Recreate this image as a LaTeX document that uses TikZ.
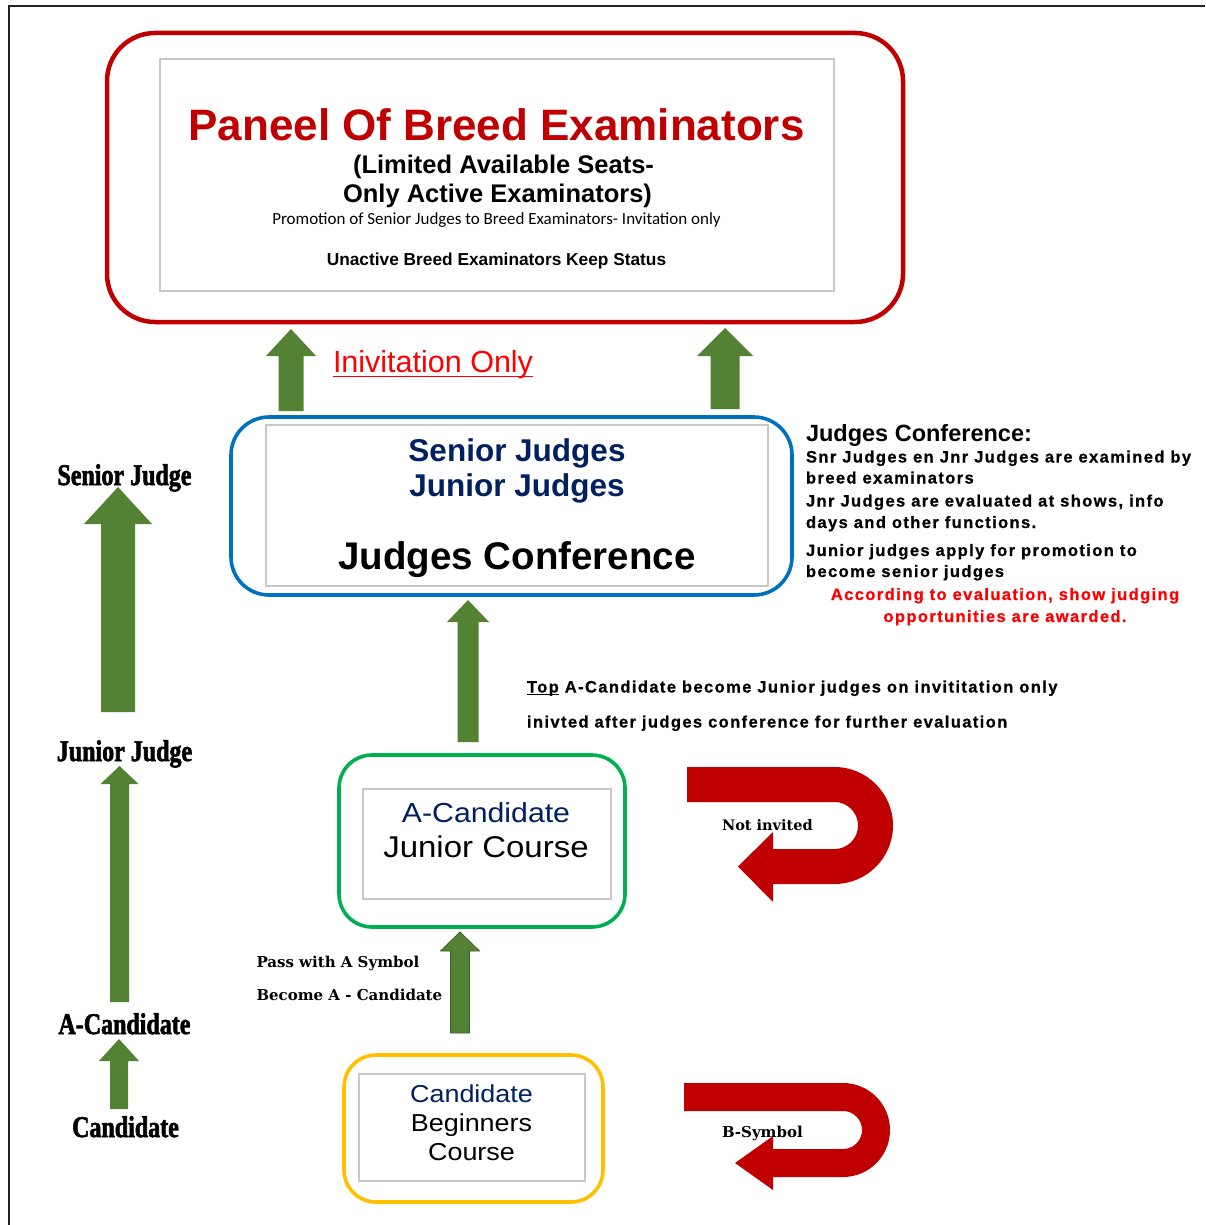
\documentclass[tikz,border=0pt]{standalone}
\usepackage{fontspec}
\setmainfont{Liberation Sans}
\newfontfamily\wsans{Liberation Sans}[FakeStretch=1.1]
\newfontfamily\lsans{Liberation Sans}[LetterSpace=8.5,FakeBold=0.7]
\newfontfamily\hserif{Liberation Serif}[FakeStretch=0.8,FakeBold=2]
\newfontfamily\dserif{DejaVu Serif}
\newfontfamily\calib{Carlito}
\definecolor{pred}{HTML}{C00000}
\definecolor{bred}{HTML}{FF0000}
\definecolor{pgreen}{HTML}{548235}
\definecolor{pgreenline}{HTML}{3B5E25}
\definecolor{navy}{HTML}{002060}
\definecolor{pblue}{HTML}{0070C0}
\definecolor{pgbox}{HTML}{00B050}
\definecolor{pyellow}{HTML}{FFC000}
\definecolor{pgray}{HTML}{C8C8C8}
\definecolor{frame}{HTML}{222222}
\newcommand\fs[1]{\fontsize{#1}{#1}\selectfont}
\newcommand\ulin[3]{{\setbox0\hbox{#3}\rlap{\rule[-#1]{\wd0}{#2}}\box0}}
% apex x, apex y, head half width, head base y, shaft half width, bottom y
\newcommand\uparr[7][]{\path[greenarrow,#1] (#2,#3) -- ({#2+#4},#5) -- ({#2+#6},#5) -- ({#2+#6},#7) -- ({#2-#6},#7) -- ({#2-#6},#5) -- ({#2-#4},#5) -- cycle;}
\tikzset{
  roundbox/.style={draw, line width=3.6pt, fill=white, inner sep=0pt},
  innerrect/.style={draw=pgray, line width=1.2pt, fill=white, inner sep=0pt},
  greenarrow/.style={fill=pgreen},
  redturn/.style={fill=pred},
  txt/.style={anchor=base, inner sep=0pt, outer sep=0pt},
  txtw/.style={anchor=base west, inner sep=0pt, outer sep=0pt},
  sidelabel/.style={txt, font=\hserif\bfseries\fs{30}},
  rightnote/.style={txtw, font=\lsans\bfseries\fs{16.5}},
  serifnote/.style={txtw, font=\dserif\bfseries\fs{15}},
}
\begin{document}
\begin{tikzpicture}[x=1pt,y=-1pt]
\useasboundingbox (0,0) rectangle (1205,1225);
% page frame (left and top)
\draw[frame, line width=2pt] (9,1225) -- (9,6.5) -- (1205,6.5);

% ---------- Panel of breed examinators ----------
\node[roundbox, draw=pred, line width=4.5pt, rounded corners=48pt, minimum width=796pt, minimum height=289pt] (panel) at (505,177.5) {};
\node[innerrect, minimum width=674pt, minimum height=232pt] (panelin) at (497,175) {};
\node[txt, text=pred, font=\bfseries\fs{44}] (title) at (496.5,141) {Paneel Of Breed Examinators};
\node[txt, font=\bfseries\fs{25.5}] (lim1) at (503.5,174) {(Limited Available Seats-};
\node[txt, font=\bfseries\fs{25.5}] (lim2) at (497.5,203) {Only Active Examinators)};
\node[txt, font=\calib\fs{17}] (promo) at (496.5,224) {Promotion of Senior Judges to Breed Examinators- Invitation only};
\node[txt, font=\bfseries\fs{17.3}] (unact) at (496.5,265) {Unactive Breed Examinators Keep Status};

% ---------- arrows to panel ----------
\uparr{291}{329}{25}{356}{12.5}{411}
\uparr{725}{328}{28}{356}{14.5}{409}
\node[txtw, text=bred, font=\fs{30.5}] (invit) at (333,372) {\ulin{5pt}{1.5pt}{Inivitation Only}};

% ---------- Judges conference ----------
\node[roundbox, draw=pblue, rounded corners=38pt, minimum width=561pt, minimum height=178pt] (senior) at (511.5,506) {};
\node[innerrect, minimum width=502pt, minimum height=161pt] (seniorin) at (517,505.5) {};
\node[txt, text=navy, font=\bfseries\fs{31.5}] (sj) at (517,461) {Senior Judges};
\node[txt, text=navy, font=\bfseries\fs{31.5}] (jj) at (517,496) {Junior Judges};
\node[txt, font=\bfseries\fs{38.5}] (jc) at (517,569) {Judges Conference};

% right notes
\node[txtw, font=\bfseries\fs{23.5}] (jch) at (806,441) {Judges Conference:};
\node[rightnote] (n1) at (806,462.5) {Snr Judges en Jnr Judges are examined by};
\node[rightnote] (n2) at (806,483.5) {breed examinators};
\node[rightnote] (n3) at (806,506.5) {Jnr Judges are evaluated at shows, info};
\node[rightnote] (n4) at (806,528) {days and other functions.};
\node[rightnote] (n5) at (806,556) {Junior judges apply for promotion to};
\node[rightnote] (n6) at (806,577) {become senior judges};
\node[rightnote, anchor=base, text=bred] (n7) at (1005,600) {According to evaluation, show judging};
\node[rightnote, anchor=base, text=bred] (n8) at (1005,622) {opportunities are awarded.};

% ---------- A-candidate ----------
\uparr{468}{600}{21}{622}{10.5}{742}
\node[rightnote] (m1) at (527,692.5) {\ulin{2.6pt}{1.2pt}{Top} A-Candidate become Junior judges on invititation only};
\node[rightnote] (m2) at (527,727.5) {inivted after judges conference for further evaluation};

\node[roundbox, draw=pgbox, rounded corners=33pt, minimum width=286pt, minimum height=172pt] (acand) at (482,841) {};
\node[innerrect, minimum width=248pt, minimum height=110pt] (acandin) at (487,844) {};
\node[txt, text=navy, font=\wsans\fs{27.5}] (acandt) at (486,822) {A-Candidate};
\node[txt, font=\wsans\fs{30}] (jcourse) at (486,857) {Junior Course};

% not invited U-turn
\path[redturn] (687,767) -- (834.5,767) arc[start angle=-90, end angle=90, radius=58.5]
  -- (773,884) -- (773,902) -- (738,866.5) -- (773,832) -- (773,849) -- (834.5,849)
  arc[start angle=90, end angle=-90, radius=23.5] -- (687,802) -- cycle;
\node[serifnote, font=\dserif\bfseries\fs{14.5}] (notinv) at (722,830) {Not invited};

% ---------- Candidate ----------
\uparr[draw=pgreenline, line width=0.8pt]{460}{932}{19.5}{951}{9.5}{1033}
\node[serifnote] (pass) at (256.5,967) {Pass with A Symbol};
\node[serifnote] (become) at (256.5,1000) {Become A - Candidate};

\node[roundbox, draw=pyellow, rounded corners=32pt, minimum width=259pt, minimum height=147pt] (cand) at (473.5,1128.5) {};
\node[innerrect, minimum width=226pt, minimum height=107pt] (candin) at (472,1127.5) {};
\node[txt, text=navy, font=\wsans\fs{24.5}] (candt) at (471.5,1102.5) {Candidate};
\node[txt, font=\wsans\fs{24.5}] (beg) at (471.5,1131.5) {Beginners};
\node[txt, font=\wsans\fs{24.5}] (crs) at (471.5,1160) {Course};

% B-symbol U-turn
\path[redturn] (684,1083) -- (843,1083) arc[start angle=-90, end angle=90, radius=47]
  -- (773,1177) -- (773,1190) -- (735,1163) -- (773,1136) -- (773,1149) -- (843,1149)
  arc[start angle=90, end angle=-90, radius=19] -- (684,1111) -- cycle;
\node[serifnote] (bsym) at (722,1137) {B-Symbol};

% ---------- left ladder ----------
\uparr{118}{487}{34}{524}{17}{712}
\uparr{119.5}{766}{19}{784}{9.5}{1002}
\uparr{119}{1039}{20}{1061}{9}{1109}
\node[sidelabel] (lsen) at (124.5,485) {Senior Judge};
\node[sidelabel] (ljun) at (124.5,761) {Junior Judge};
\node[sidelabel] (lacand) at (124.5,1034) {A-Candidate};
\node[sidelabel] (lcand) at (125.5,1137) {Candidate};
\end{tikzpicture}
\end{document}
